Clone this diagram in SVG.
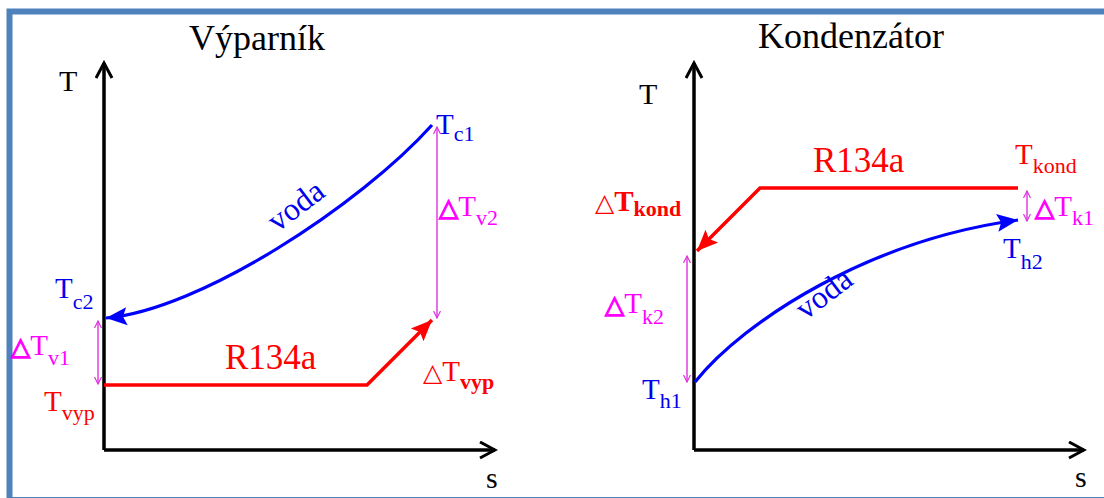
<svg xmlns="http://www.w3.org/2000/svg" width="1104" height="498" viewBox="0 0 1104 498" font-family="'Liberation Serif', 'Times New Roman', serif">
<style>
text, tspan{font-family:"Liberation Serif","Times New Roman",serif;}
.title{font-size:36px;fill:#000;}
.ax{font-size:30px;fill:#000;}
.b{fill:#0000ee;}
.r{fill:#ff0000;}
.m{fill:#ff00ff;}
.big{font-size:29px;}
.sub{font-size:22px;}
tspan.tri{font-family:"DejaVu Sans",sans-serif;font-size:25px;}
.axis{stroke:#000;stroke-width:3.5;fill:none;}
.blue{stroke:#0000ff;stroke-width:3.2;fill:none;}
.red{stroke:#ff0000;stroke-width:3.5;fill:none;}
.mag{stroke:#dd33dd;stroke-width:1.4;fill:none;}
</style>
<defs>
<marker id="axArr" markerUnits="userSpaceOnUse" markerWidth="20" markerHeight="20" viewBox="0 0 20 20" refX="17" refY="9" orient="auto">
<path d="M2,1 L17,9 L2,17" fill="none" stroke="#000" stroke-width="3"/>
</marker>
<marker id="bArr" markerUnits="userSpaceOnUse" markerWidth="22" markerHeight="20" viewBox="0 0 22 20" refX="21" refY="10" orient="auto">
<path d="M0,1 L21,10 L0,19 L4,10 z" fill="#0000ff"/>
</marker>
<marker id="rArr" markerUnits="userSpaceOnUse" markerWidth="22" markerHeight="20" viewBox="0 0 22 20" refX="21" refY="10" orient="auto">
<path d="M0,1 L21,10 L0,19 L4,10 z" fill="#ff0000"/>
</marker>
<marker id="mArr" markerUnits="userSpaceOnUse" markerWidth="8" markerHeight="8" viewBox="0 0 8 8" refX="7" refY="4" orient="auto-start-reverse">
<path d="M0,0.5 L7,4 L0,7.5" fill="none" stroke="#dd33dd" stroke-width="1.2"/>
</marker>
</defs>
<rect x="0" y="0" width="1104" height="498" fill="#fff"/>
<rect x="9.5" y="11.5" width="1110" height="488.5" fill="none" stroke="#4f81bd" stroke-width="6"/>

<g id="connectors">
<path class="axis" d="M104,450 L104,63" marker-end="url(#axArr)"/>
<path class="axis" d="M104,450 L495,450" marker-end="url(#axArr)"/>
<path class="blue" d="M432,125 C360,205 200,310 106,318" marker-end="url(#bArr)"/>
<path class="red" d="M104,385 L367,385 L432,320" marker-end="url(#rArr)"/>
<path class="mag" d="M437,127 L437,318" marker-start="url(#mArr)" marker-end="url(#mArr)"/>
<path class="mag" d="M98,321 L98,384" marker-start="url(#mArr)" marker-end="url(#mArr)"/>
<path class="axis" d="M694,450 L694,63" marker-end="url(#axArr)"/>
<path class="axis" d="M694,450 L1084,450" marker-end="url(#axArr)"/>
<path class="red" d="M1018,188 L760,188 L697,251" marker-end="url(#rArr)"/>
<path class="blue" d="M695,382 C745,320 870,240 1018,220" marker-end="url(#bArr)"/>
<path class="mag" d="M1027,191 L1027,221" marker-start="url(#mArr)" marker-end="url(#mArr)"/>
<path class="mag" d="M687,256 L687,382" marker-start="url(#mArr)" marker-end="url(#mArr)"/>
</g>

<g id="title-vyparnik"><text class="title" x="189" y="50" font-family="Liberation Serif, serif">Výparník</text></g>
<g id="title-kondenzator"><text class="title" x="758" y="48" font-family="Liberation Serif, serif">Kondenzátor</text></g>

<g id="axis-labels-left">
<text class="ax" x="59" y="91" font-family="Liberation Serif, serif">T</text>
<text class="ax" x="486" y="488" font-family="Liberation Serif, serif">s</text>
</g>
<g id="axis-labels-right">
<text class="ax" x="639" y="104" font-family="Liberation Serif, serif">T</text>
<text class="ax" x="1075" y="487" font-family="Liberation Serif, serif">s</text>
</g>

<g id="label-Tc1"><text class="b big" x="436" y="134" font-family="Liberation Serif, serif">T<tspan class="sub" dy="7">c1</tspan></text></g>
<g id="label-Tc2"><text class="b big" x="55" y="298" font-family="Liberation Serif, serif">T<tspan class="sub" dy="11">c2</tspan></text></g>
<g id="label-dTv2"><text class="m big" x="439" y="216" font-family="Liberation Serif, serif"><tspan class="tri" font-weight="bold" stroke="#ff00ff" stroke-width="1.2">△</tspan>T<tspan class="sub" dy="9">v2</tspan></text></g>
<g id="label-dTv1"><text class="m big" x="11" y="355" font-family="Liberation Serif, serif"><tspan class="tri" font-weight="bold" stroke="#ff00ff" stroke-width="1.2">△</tspan>T<tspan class="sub" dy="10">v1</tspan></text></g>
<g id="label-Tvyp"><text class="r big" x="44" y="411" font-family="Liberation Serif, serif">T<tspan class="sub" dy="9">vyp</tspan></text></g>
<g id="label-R134a-left"><text class="r" font-size="35" x="225" y="369" font-family="Liberation Serif, serif">R134a</text></g>
<g id="label-dTvyp"><text class="r big" x="423" y="381" font-family="Liberation Serif, serif"><tspan class="tri">△</tspan>T<tspan class="sub" font-weight="bold" dy="8">vyp</tspan></text></g>
<g id="label-voda-left"><text class="b" font-size="32" transform="translate(302,214) rotate(-37)" text-anchor="middle" font-family="Liberation Serif, serif">voda</text></g>

<g id="label-R134a-right"><text class="r" font-size="35" x="813" y="172" font-family="Liberation Serif, serif">R134a</text></g>
<g id="label-Tkond"><text class="r big" x="1015" y="164" font-family="Liberation Serif, serif">T<tspan class="sub" dy="9">kond</tspan></text></g>
<g id="label-dTk1"><text class="m big" x="1035" y="216" font-family="Liberation Serif, serif"><tspan class="tri" font-weight="bold" stroke="#ff00ff" stroke-width="1.2">△</tspan>T<tspan class="sub" dy="9">k1</tspan></text></g>
<g id="label-dTkond"><text class="r big" x="595" y="211" font-family="Liberation Serif, serif"><tspan class="tri">△</tspan><tspan font-weight="bold">T</tspan><tspan class="sub" font-weight="bold" dy="5">kond</tspan></text></g>
<g id="label-Th2"><text class="b big" x="1003" y="258" font-family="Liberation Serif, serif">T<tspan class="sub" dy="11">h2</tspan></text></g>
<g id="label-dTk2"><text class="m big" x="605" y="313" font-family="Liberation Serif, serif"><tspan class="tri" font-weight="bold" stroke="#ff00ff" stroke-width="1.2">△</tspan>T<tspan class="sub" dy="11">k2</tspan></text></g>
<g id="label-Th1"><text class="b big" x="642" y="399" font-family="Liberation Serif, serif">T<tspan class="sub" dy="9">h1</tspan></text></g>
<g id="label-voda-right"><text class="b" font-size="32" transform="translate(830,302) rotate(-37)" text-anchor="middle" font-family="Liberation Serif, serif">voda</text></g>
</svg>
